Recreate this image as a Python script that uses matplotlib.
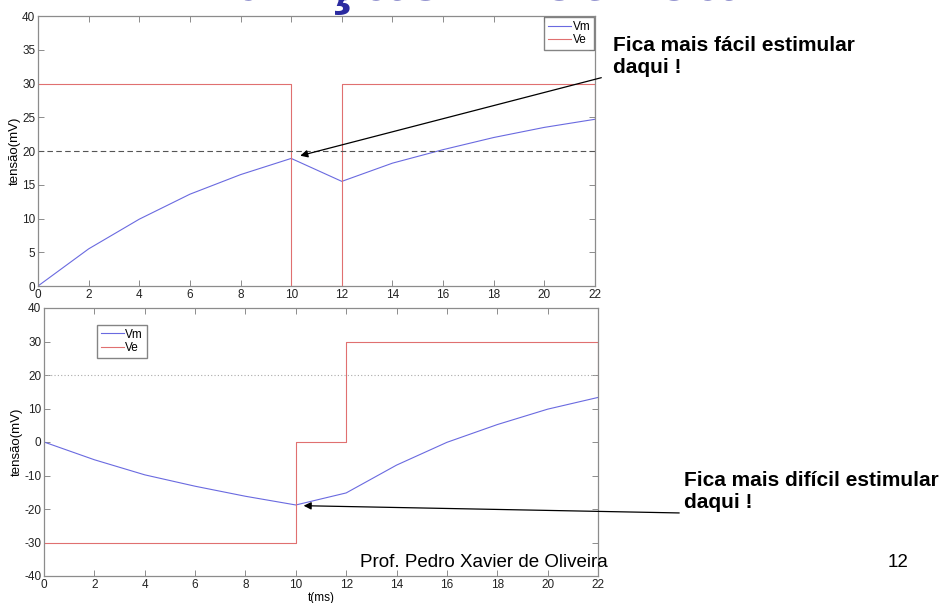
import numpy as np
import matplotlib
matplotlib.use('Agg')
import matplotlib.pyplot as plt

plt.rcParams['font.family'] = ['Liberation Sans', 'DejaVu Sans']
plt.rcParams['axes.unicode_minus'] = False

# tempos (ms)
t = [0, 2, 4, 6, 8, 10, 12, 14, 16, 18, 20, 22]
# painel de cima
vm_top = [0, 5.5, 9.9, 13.6, 16.5, 18.9, 15.5, 18.2, 20.2, 22.0, 23.5, 24.7]
ve_top_t = [0, 10, 10, 12, 12, 22, 22]
ve_top = [30, 30, 0, 0, 30, 30, 15]
# painel de baixo
vm_bot = [0, -5.3, -9.8, -13.2, -16.2, -18.8, -15.2, -6.9, -0.1, 5.2, 9.8, 13.3]
ve_bot_t = [0, 10, 10, 12, 12, 22, 22]
ve_bot = [-30, -30, 0, 0, 30, 30, 15]
limiar = 20

c_vm = '#6a6ae0'
c_ve = '#e07070'
c_spine = '#8c8c8c'

fig = plt.figure(figsize=(9.47, 6.03), dpi=100)
ax1 = fig.add_axes([38/947, 1-286/603, 557/947, 270/603])
ax2 = fig.add_axes([44/947, 1-576/603, 554/947, 268/603])

def estilo(ax):
    for s in ax.spines.values():
        s.set_color(c_spine)
        s.set_linewidth(0.9)
    ax.tick_params(direction='in', length=4, width=0.7, color=c_spine,
                   top=True, right=True, labelsize=8.5, labelcolor='#222222', pad=2)
    ax.set_xlim(0, 22)
    ax.set_xticks(range(0, 23, 2))
    ax.set_ylabel('tensão(mV)', fontsize=9.5, labelpad=1)

ax1.plot(t, vm_top, color=c_vm, lw=0.8, label='Vm')
ax1.plot(ve_top_t, ve_top, color=c_ve, lw=0.8, label='Ve')
ax1.axhline(limiar, color='#555555', lw=0.8, ls=(0, (5, 3)))
estilo(ax1)
ax1.set_ylim(0, 40)
ax1.set_yticks(range(0, 41, 5))
ax1.legend(loc='upper right', fontsize=8.5, frameon=True, fancybox=False,
           edgecolor='#666666', borderaxespad=0.1, borderpad=0.3,
           labelspacing=0.15, handlelength=2.0, handletextpad=0.1)

ax2.plot(t, vm_bot, color=c_vm, lw=0.8, label='Vm')
ax2.plot(ve_bot_t, ve_bot, color=c_ve, lw=0.8, label='Ve')
ax2.axhline(limiar, color='#aaaaaa', lw=0.8, ls=(0, (1, 2)))
estilo(ax2)
ax2.set_ylim(-40, 40)
ax2.set_yticks(range(-40, 41, 10))
ax2.set_xlabel('t(ms)', fontsize=8.5, labelpad=1)
ax2.legend(loc='upper left', bbox_to_anchor=(0.0957, 0.9366), fontsize=8.5,
           frameon=True, fancybox=False, edgecolor='#666666', borderaxespad=0,
           borderpad=0.3, labelspacing=0.15, handlelength=2.0, handletextpad=0.1)

# setas
ax1.annotate('', xy=(10.25, 19.2), xycoords='data',
             xytext=(604/947, 1-77/603), textcoords='figure fraction',
             arrowprops=dict(arrowstyle='-|>', color='k', lw=0.9, mutation_scale=11),
             annotation_clip=False)
ax2.annotate('', xy=(10.2, -19.0), xycoords='data',
             xytext=(682/947, 1-513/603), textcoords='figure fraction',
             arrowprops=dict(arrowstyle='-|>', color='k', lw=0.9, mutation_scale=11),
             annotation_clip=False)

fig.text(613/947, 1-73/603, 'Fica mais fácil estimular\ndaqui !', fontsize=15,
         fontweight='bold', va='baseline', ha='left', linespacing=1.2)
fig.text(684/947, 1-508/603, 'Fica mais difícil estimular\ndaqui !', fontsize=15,
         fontweight='bold', va='baseline', ha='left', linespacing=1.2)

# titulo do slide, cortado no topo
fig.text(460/947, 1.0, 'Função Elétrica', fontsize=53, fontweight='bold',
         color='#2a2aa0', ha='center', va='baseline')

fig.text(608/947, 1-567/603, 'Prof. Pedro Xavier de Oliveira', fontsize=13.5,
         ha='right', va='baseline', zorder=10)
fig.text(908/947, 1-567/603, '12', fontsize=13.5, ha='right', va='baseline')

fig.savefig('out.png', dpi=100)
